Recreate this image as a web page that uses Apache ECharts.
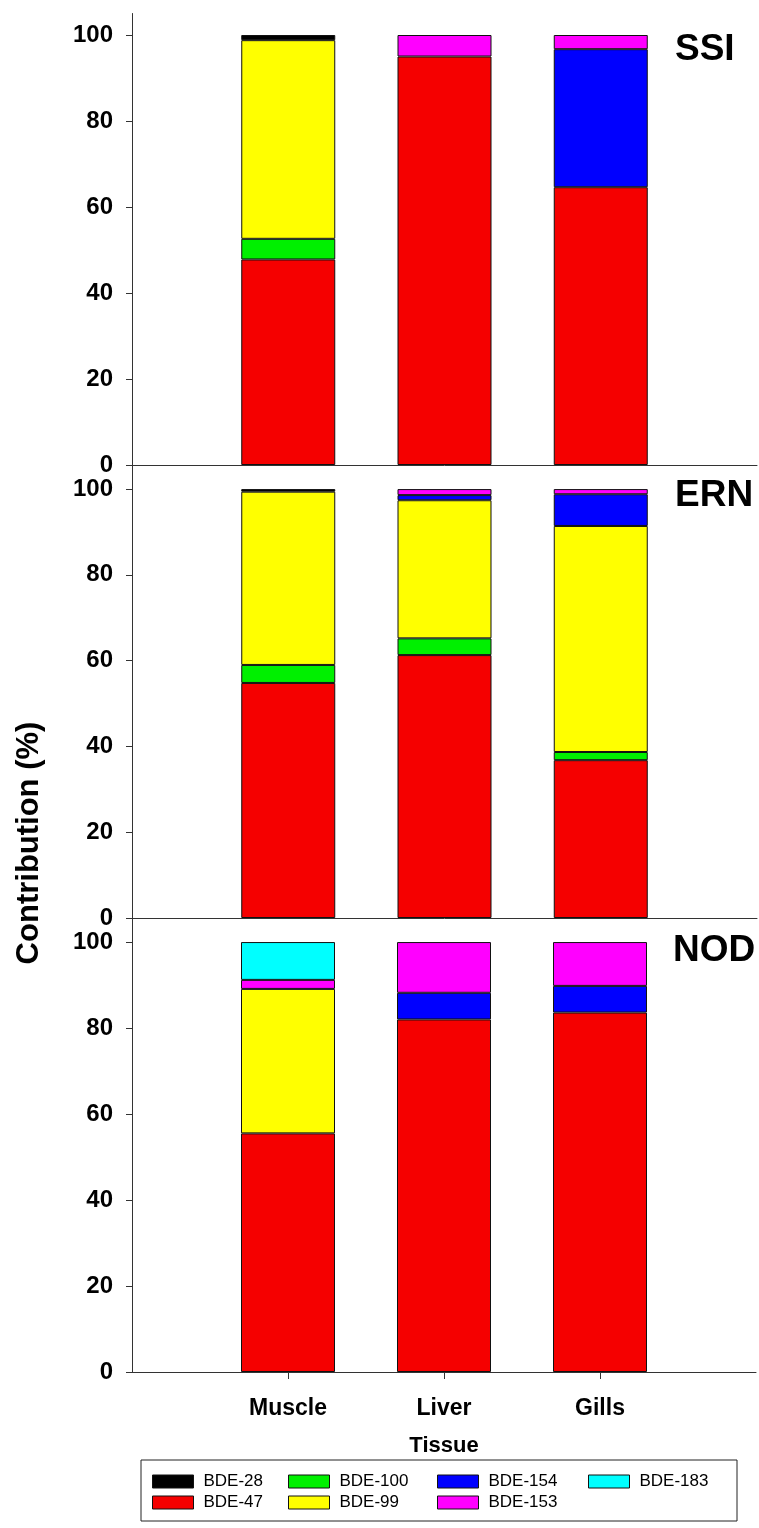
<!DOCTYPE html>
<html>
<head>
<meta charset="utf-8">
<script src="https://cdn.jsdelivr.net/npm/echarts@6/dist/echarts.min.js"></script>
<style>html,body{margin:0;padding:0;background:#fff;}#c{width:759px;height:1528px;}</style>
</head>
<body>
<div id="c"></div>
<script>
// ---- data ----
const categories = ['Muscle', 'Liver', 'Gills'];
const sites = ['SSI', 'ERN', 'NOD'];
const congeners = ['BDE-47', 'BDE-100', 'BDE-99', 'BDE-154', 'BDE-153', 'BDE-183', 'BDE-28']; // stack order bottom -> top
const yTicks = [0, 20, 40, 60, 80, 100];

// SSI (Muscle, Liver, Gills)
const SSI_BDE47  = [47.8, 95.0, 64.6];
const SSI_BDE100 = [4.8, 0, 0];
const SSI_BDE99  = [46.2, 0, 0];
const SSI_BDE154 = [0, 0, 32.1];
const SSI_BDE153 = [0, 5.0, 3.3];
const SSI_BDE183 = [0, 0, 0];
const SSI_BDE28  = [1.2, 0, 0];

// ERN
const ERN_BDE47  = [54.8, 61.3, 36.8];
const ERN_BDE100 = [4.2, 3.9, 1.9];
const ERN_BDE99  = [40.4, 32.2, 52.7];
const ERN_BDE154 = [0, 1.2, 7.4];
const ERN_BDE153 = [0, 1.4, 1.2];
const ERN_BDE183 = [0, 0, 0];
const ERN_BDE28  = [0.6, 0, 0];

// NOD
const NOD_BDE47  = [55.5, 82.0, 83.6];
const NOD_BDE100 = [0, 0, 0];
const NOD_BDE99  = [33.6, 0, 0];
const NOD_BDE154 = [0, 6.2, 6.2];
const NOD_BDE153 = [2.1, 11.8, 10.2];
const NOD_BDE183 = [8.8, 0, 0];
const NOD_BDE28  = [0, 0, 0];

const siteData = {
  SSI: [SSI_BDE47, SSI_BDE100, SSI_BDE99, SSI_BDE154, SSI_BDE153, SSI_BDE183, SSI_BDE28],
  ERN: [ERN_BDE47, ERN_BDE100, ERN_BDE99, ERN_BDE154, ERN_BDE153, ERN_BDE183, ERN_BDE28],
  NOD: [NOD_BDE47, NOD_BDE100, NOD_BDE99, NOD_BDE154, NOD_BDE153, NOD_BDE183, NOD_BDE28]
};

// ---- styles ----
const colors = {
  'BDE-47': '#f50000', 'BDE-100': '#00f000', 'BDE-99': '#ffff00',
  'BDE-154': '#0000ff', 'BDE-153': '#ff00ff', 'BDE-183': '#00ffff', 'BDE-28': '#000000'
};
const FONT = 'Liberation Sans, Arial, sans-serif';
const grids = [
  {left: 132, right: 2, top: 13.5, height: 451.5},
  {left: 132, right: 2, top: 465.5, height: 452.5},
  {left: 132, right: 2, top: 918.4, height: 453.6}
];
const yMax = [105, 105.5, 105.5];
const paddedCats = [''].concat(categories, ['']);

const xAxes = [], yAxes = [], series = [];
sites.forEach((s, gi) => {
  const last = gi === sites.length - 1;
  xAxes.push({
    type: 'category', gridIndex: gi, data: paddedCats, boundaryGap: false,
    axisLine: {lineStyle: {color: '#333', width: 1}},
    axisTick: {show: last, length: 7, lineStyle: {color: '#333'},
      interval: (i) => i > 0 && i < paddedCats.length - 1},
    axisLabel: {show: last, interval: 0, margin: 25, color: '#000',
      fontFamily: FONT, fontWeight: 'bold', fontSize: 23},
    splitLine: {show: false},
    name: last ? 'Tissue' : '', nameLocation: 'middle', nameGap: 63,
    nameTextStyle: {color: '#000', fontFamily: FONT, fontWeight: 'bold', fontSize: 22}
  });
  yAxes.push({
    type: 'value', gridIndex: gi, min: 0, max: yMax[gi],
    axisLine: {show: true, lineStyle: {color: '#333', width: 1}},
    axisTick: {show: true, length: 6, customValues: yTicks, lineStyle: {color: '#333'}},
    axisLabel: {customValues: yTicks, margin: 19, color: '#000',
      fontFamily: FONT, fontWeight: 'bold', fontSize: 24},
    splitLine: {show: false}
  });
  congeners.forEach((c, ci) => {
    const vals = siteData[s][ci];
    series.push({
      type: 'bar', name: c, xAxisIndex: gi, yAxisIndex: gi, stack: s,
      barWidth: 94,
      itemStyle: {color: colors[c], borderColor: '#111', borderWidth: 1},
      data: [null].concat(vals.map(v => v === 0 ? null : v), [null])
    });
  });
});

const legendCols = [
  {left: 152, data: ['BDE-28', 'BDE-47']},
  {left: 288, data: ['BDE-100', 'BDE-99']},
  {left: 437, data: ['BDE-154', 'BDE-153']},
  {left: 588, data: ['BDE-183']}
];
const legends = legendCols.map(l => ({
  orient: 'vertical', left: l.left, top: 1473, padding: 0, data: l.data,
  itemWidth: 41, itemHeight: 13, itemGap: 4, icon: 'rect',
  itemStyle: {borderColor: '#111', borderWidth: 1},
  selectedMode: false,
  textStyle: {color: '#000', fontFamily: FONT, fontSize: 17, lineHeight: 17, padding: [0, 0, 0, 5]}
}));

const titlePos = [{x: 675, y: 53}, {x: 675, y: 499}, {x: 673, y: 954}];
const graphics = sites.map((s, i) => ({
  type: 'text', left: titlePos[i].x, top: titlePos[i].y - 22,
  style: {text: s, fill: '#000', font: 'bold 37px ' + FONT, textVerticalAlign: 'top'}
}));
graphics.push({
  type: 'text', x: 29, y: 843, rotation: Math.PI / 2,
  style: {text: 'Contribution (%)', fill: '#000', font: 'bold 31px ' + FONT,
    textAlign: 'center', textVerticalAlign: 'middle'}
});
graphics.push({
  type: 'rect', shape: {x: 141, y: 1460, width: 596, height: 61},
  style: {fill: 'none', stroke: '#222', lineWidth: 1}, z: -1
});

const chart = echarts.init(document.getElementById('c'), null, {renderer: 'canvas'});
chart.setOption({
  animation: false,
  backgroundColor: '#fff',
  grid: grids,
  xAxis: xAxes,
  yAxis: yAxes,
  legend: legends,
  graphic: graphics,
  series: series
});
</script>
</body>
</html>
